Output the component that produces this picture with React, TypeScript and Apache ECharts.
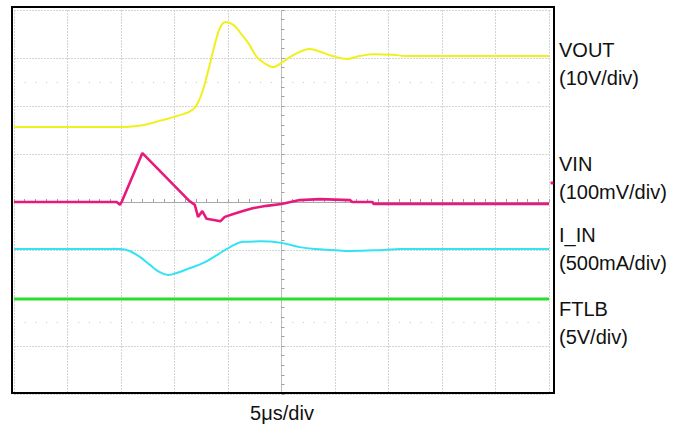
import React, { useEffect, useRef } from "react";
import * as echarts from "echarts";

// time in µs (5 µs/div, trigger at 0), amplitude in screen divisions (centre = 0)
const voutT = [-25, -15.6, -14.2, -13.0, -11.4, -9.5, -8.3, -7.6, -6.9, -6.2, -5.7, -5.2, -4.5, -3.9, -3.1, -2.3, -1.5, -0.8, 0, 1.1, 2.7, 3.6, 4.8, 6.1, 7.3, 8.6, 10.4, 11.6, 25];
const voutV = [1.56, 1.56, 1.57, 1.6, 1.69, 1.81, 1.92, 2.17, 2.69, 3.31, 3.65, 3.75, 3.69, 3.54, 3.31, 3.02, 2.88, 2.81, 2.9, 3.06, 3.19, 3.13, 3.04, 2.98, 3.04, 3.08, 3.07, 3.04, 3.04];

const vinT = [-25, -15.4, -15.1, -14.9, -13.0, -8.6, -8.1, -7.8, -7.4, -7.0, -6.2, -5.7, -5.3, -4.5, -3.6, -2.7, -1.4, 0, 1.7, 3.6, 6.4, 6.6, 8.5, 8.6, 25];
const vinV = [0, 0, -0.06, 0.02, 1.02, 0.02, -0.06, -0.31, -0.19, -0.35, -0.38, -0.4, -0.31, -0.25, -0.19, -0.13, -0.08, -0.04, 0.04, 0.06, 0.04, 0, 0, -0.04, -0.04];

const iinT = [-25, -15.1, -14.2, -13.2, -12.3, -11.4, -10.6, -9.8, -8.6, -7.3, -6.0, -4.8, -3.6, -2.0, -0.1, 1.7, 3.1, 4.8, 6.4, 9.5, 11.1, 25];
const iinV = [-0.98, -0.98, -1.02, -1.15, -1.31, -1.46, -1.52, -1.48, -1.38, -1.27, -1.1, -0.94, -0.83, -0.82, -0.85, -0.94, -0.98, -1.0, -1.02, -1.0, -0.98, -0.98];

const ftlbT = [-25, 25];
const ftlbV = [-2.02, -2.02];

const channelNames = ["VOUT", "VIN", "I_IN", "FTLB"];
const channelScales = ["(10V/div)", "(100mV/div)", "(500mA/div)", "(5V/div)"];
const timeScale = "5μs/div";
const colors = ["#f0f01e", "#e8197c", "#33e3f3", "#2ade2a"];

const zip = (t: number[], v: number[]) => t.map((x, i) => [x, v[i]]);

export default function App() {
  const ref = useRef<HTMLDivElement>(null);
  useEffect(() => {
    document.body.style.margin = "0";
    const chart = echarts.init(ref.current!, null, { renderer: "svg" });
    const font = "Liberation Sans, Arial, sans-serif";
    const labelY = [[50, 78], [164, 192], [235, 263], [309, 337]];
    const texts: any[] = [];
    channelNames.forEach((n, i) => {
      texts.push({
        type: "text", x: 559, y: labelY[i][0],
        style: { text: n, font: `20px ${font}`, fill: "#111", textVerticalAlign: "middle" },
      });
      texts.push({
        type: "text", x: 559, y: labelY[i][1],
        style: { text: channelScales[i], font: `20px ${font}`, fill: "#111", textVerticalAlign: "middle" },
      });
    });
    texts.push({
      type: "text", x: 282, y: 413,
      style: { text: timeScale, font: `20px ${font}`, fill: "#111", textAlign: "center", textVerticalAlign: "middle" },
    });
    const lineSeries = (name: string, data: number[][], color: string, width: number, smooth: number | boolean) => ({
      type: "line", name, data, showSymbol: false, smooth,
      lineStyle: { color, width }, itemStyle: { color }, z: 3,
    });
    chart.setOption({
      animation: false,
      backgroundColor: "#ffffff",
      grid: { left: 14, top: 10, width: 535, height: 384, show: false },
      xAxis: {
        type: "value", min: -25, max: 25, interval: 5,
        axisLabel: { show: false },
        axisLine: { show: true, onZero: true, lineStyle: { color: "#a8a8a8", width: 1 } },
        axisTick: { show: true, inside: true, length: 3, lineStyle: { color: "#a0a0a0" } },
        minorTick: { show: true, splitNumber: 5, length: 3, lineStyle: { color: "#a0a0a0" } },
        splitLine: { show: true, lineStyle: { color: "#d4d4d4", width: 1, type: [2, 1] } },
      },
      yAxis: {
        type: "value", min: -4, max: 4, interval: 1,
        axisLabel: { show: false },
        axisLine: { show: true, onZero: true, lineStyle: { color: "#b8b8b8", width: 1, type: [2, 1] } },
        axisTick: { show: true, inside: true, length: 3, lineStyle: { color: "#a0a0a0" } },
        minorTick: { show: true, splitNumber: 5, length: 3, lineStyle: { color: "#a0a0a0" } },
        splitLine: { show: true, lineStyle: { color: "#d4d4d4", width: 1, type: [2, 1] } },
      },
      series: [
        {
          type: "line", data: [], silent: true,
          markLine: {
            silent: true, symbol: "none", label: { show: false },
            lineStyle: { color: "#c4c4c4", width: 1, type: [1, 9.7] },
            data: [{ yAxis: 2.5 }, { yAxis: -2.5 }],
          },
        },
        lineSeries("FTLB", zip(ftlbT, ftlbV), colors[3], 3, false),
        lineSeries("I_IN", zip(iinT, iinV), colors[2], 2, 0.4),
        lineSeries("VIN", zip(vinT, vinV), colors[1], 2.6, false),
        lineSeries("VOUT", zip(voutT, voutV), colors[0], 2, 0.4),
      ],
      graphic: [
        {
          type: "rect", shape: { x: 12, y: 7, width: 542, height: 386 },
          style: { fill: "none", stroke: "#000", lineWidth: 2 }, z: 10,
        },
        { type: "circle", shape: { cx: 552, cy: 183, r: 1.6 }, style: { fill: colors[1] }, z: 11 },
        ...texts,
      ],
    });
    return () => chart.dispose();
  }, []);
  return <div ref={ref} style={{ width: 689, height: 426 }} />;
}
